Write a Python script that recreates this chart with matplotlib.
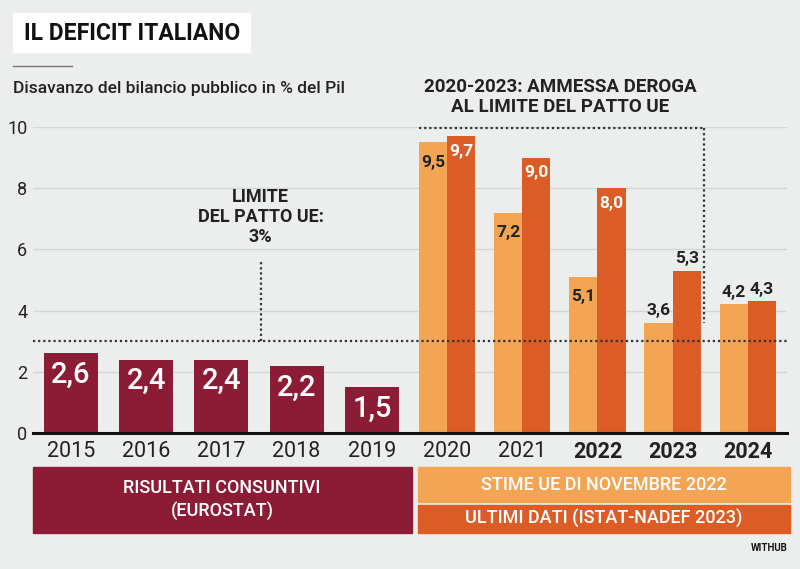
import matplotlib
matplotlib.use("Agg")
from matplotlib import pyplot as plt
from matplotlib.patches import Rectangle
from matplotlib.lines import Line2D
import numpy as np

plt.rcParams['font.family'] = ['Roboto', 'DejaVu Sans']

# data
years = ["2015", "2016", "2017", "2018", "2019", "2020", "2021", "2022", "2023", "2024"]
consuntivi = [2.6, 2.4, 2.4, 2.2, 1.5]
stime_ue = [9.5, 7.2, 5.1, 3.6, 4.2]
ultimi_dati = [9.7, 9.0, 8.0, 5.3, 4.3]
bold_years = ["2022", "2023", "2024"]
yticks = [0, 2, 4, 6, 8, 10]

BG = "#eceeee"
RED = "#8c1b35"
LIGHT = "#f3a553"
DARK = "#dc5c25"
TXT = "#222222"

W, H = 800, 569
fig = plt.figure(figsize=(W / 100, H / 100), dpi=100, facecolor=BG)


def fx(px):
    return px / W


def fy(py):
    return 1 - py / H


ax = fig.add_axes([fx(33), fy(433), fx(787) - fx(33), fy(127) - fy(433)])
ax.set_facecolor(BG)
ax.set_xlim(-0.505, 9.52)
ax.set_ylim(0, 10)
for s in ax.spines.values():
    s.set_visible(False)

for v in yticks[1:]:
    ax.axhline(v, color="#d3d6d6", lw=1.0, zorder=0)
ax.axhline(0, color="#111111", lw=2.2, zorder=4, clip_on=False)

ax.set_yticks(yticks)
ax.set_yticklabels([str(v) for v in yticks], fontsize=13, color=TXT)
ax.tick_params(axis="y", length=0, pad=4)
x = np.arange(len(years))
ax.set_xticks(x)
ax.set_xticklabels(years, fontsize=15.5, color=TXT)
for lab in ax.get_xticklabels():
    if lab.get_text() in bold_years:
        lab.set_fontweight("bold")
ax.tick_params(axis="x", length=0, pad=6)

# red bars
xr = x[:5]
ax.bar(xr, consuntivi, width=0.72, color=RED, zorder=2)
for xi, v in zip(xr, consuntivi):
    ax.text(xi, v - 0.25, f"{v:.1f}".replace(".", ","), ha="center", va="top",
            color="white", fontsize=21, fontweight="medium", zorder=5)

# orange pairs
xo = x[5:]
bw = 0.375
ax.bar(xo - bw / 2, stime_ue, width=bw, color=LIGHT, zorder=2)
ax.bar(xo + bw / 2, ultimi_dati, width=bw, color=DARK, zorder=2)
for xi, a, b in zip(xo, stime_ue, ultimi_dati):
    la = f"{a:.1f}".replace(".", ",")
    lb = f"{b:.1f}".replace(".", ",")
    if a > 5:
        ax.text(xi - bw / 2, a - 0.4, la, ha="center", va="top", color=TXT,
                fontsize=12.5, fontweight="bold", zorder=5)
    else:
        ax.text(xi - bw / 2, a + 0.15, la, ha="center", va="bottom", color=TXT,
                fontsize=12.5, fontweight="bold", zorder=5)
    if b > 6:
        ax.text(xi + bw / 2, b - 0.25, lb, ha="center", va="top", color="white",
                fontsize=12.5, fontweight="bold", zorder=5)
    else:
        ax.text(xi + bw / 2, b + 0.15, lb, ha="center", va="bottom", color=TXT,
                fontsize=12.5, fontweight="bold", zorder=5)

# 3% limit
dot = dict(color="#333333", lw=1.6, ls=(0, (1, 1.3)), zorder=3)
ax.axhline(3, **dot)
ax.plot([2.52, 2.52], [3, 5.6], **dot)
ax.text(2.52, 6.1, "LIMITE\nDEL PATTO UE:\n3%", ha="center", va="bottom", fontsize=13,
        fontweight="bold", color=TXT, linespacing=1.15)

# deroga box
ax.plot([xo[0] - bw, 8.41], [9.97, 9.97], clip_on=False, **dot)
ax.plot([8.41, 8.41], [9.97, 3.6], **dot)
fig.text(fx(560), fy(97), "2020-2023: AMMESSA DEROGA\nAL LIMITE DEL PATTO UE", ha="center",
         va="center", fontsize=13.5, fontweight="bold", color=TXT, linespacing=1.2)

# header
fig.patches.append(Rectangle((fx(13), fy(52)), fx(250) - fx(13), fy(13) - fy(52),
                             transform=fig.transFigure, color="white", zorder=0))
fig.text(fx(24), fy(33), "IL DEFICIT ITALIANO", fontsize=16.5, fontweight="bold", color="#111111",
         va="center")
fig.lines.append(Line2D([fx(13), fx(72)], [fy(66), fy(66)], transform=fig.transFigure,
                        color="#777777", lw=1))
fig.text(fx(13), fy(88), "Disavanzo del bilancio pubblico in % del Pil", fontsize=12.5,
         color=TXT, va="center", fontweight="medium")

# legend boxes
fig.patches.append(Rectangle((fx(33), fy(533)), fx(412) - fx(33), fy(467) - fy(533),
                             transform=fig.transFigure, color=RED))
fig.text(fx(222), fy(500), "RISULTATI CONSUNTIVI\n(EUROSTAT)", ha="center", va="center",
         fontsize=13, color="white", linespacing=1.3, fontweight="medium")
fig.patches.append(Rectangle((fx(418), fy(502)), fx(790) - fx(418), fy(467) - fy(502),
                             transform=fig.transFigure, color=LIGHT))
fig.text(fx(604), fy(485), "STIME UE DI NOVEMBRE 2022", ha="center", va="center",
         fontsize=13, color="white", fontweight="medium")
fig.patches.append(Rectangle((fx(418), fy(533)), fx(790) - fx(418), fy(505) - fy(533),
                             transform=fig.transFigure, color=DARK))
fig.text(fx(604), fy(519), "ULTIMI DATI (ISTAT-NADEF 2023)", ha="center", va="center",
         fontsize=13, color="white", fontweight="medium")

fig.text(fx(788), fy(548), "WITHUB", ha="right", va="center", fontsize=7, fontweight="bold",
         color="#111111")

fig.savefig("out.png", dpi=100, facecolor=BG)
